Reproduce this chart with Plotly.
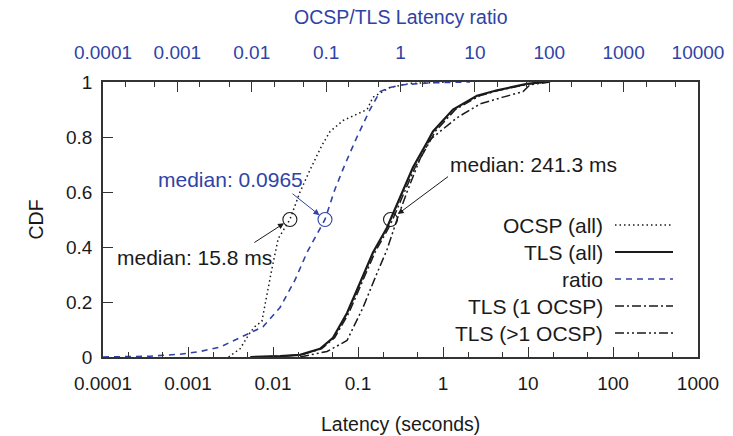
import math
import plotly.graph_objects as go

# ---------------- data ----------------
ocsp_x = [0.0030, 0.0041, 0.0054, 0.0061, 0.0074, 0.0087, 0.0097, 0.0115, 0.0158,
          0.0208, 0.0272, 0.0377, 0.0469, 0.0667, 0.128, 0.150, 0.238, 0.41, 1.2]
ocsp_y = [0.0, 0.03, 0.09, 0.11, 0.13, 0.25, 0.32, 0.43, 0.50,
          0.60, 0.68, 0.77, 0.82, 0.86, 0.90, 0.945, 0.98, 0.995, 1.0]

tls_x = [0.0054, 0.0121, 0.0208, 0.0357, 0.0508, 0.0743, 0.1057, 0.150, 0.219, 0.2413,
         0.312, 0.444, 0.648, 0.762, 1.31, 2.51, 4.32, 9.7, 15.8]
tls_y = [0.0, 0.003, 0.008, 0.03, 0.07, 0.16, 0.27, 0.38, 0.47, 0.50,
         0.58, 0.69, 0.78, 0.82, 0.90, 0.95, 0.97, 0.993, 1.0]

tls1_x = [0.0056, 0.0126, 0.0216, 0.0372, 0.0531, 0.0780, 0.111, 0.158, 0.230, 0.256,
          0.330, 0.470, 0.690, 0.810, 1.40, 2.70, 4.60, 10.2, 16.5]
tls1_y = [0.0, 0.003, 0.008, 0.03, 0.07, 0.16, 0.27, 0.38, 0.47, 0.50,
          0.58, 0.69, 0.78, 0.82, 0.90, 0.95, 0.97, 0.993, 1.0]

tlsm_x = [0.0208, 0.0432, 0.0743, 0.1146, 0.1675, 0.219, 0.2877, 0.377, 0.536,
          0.703, 1.46, 2.72, 5.08, 8.74, 10.6, 18.2]
tlsm_y = [0.0, 0.02, 0.06, 0.18, 0.305, 0.39, 0.50, 0.60, 0.72,
          0.79, 0.87, 0.92, 0.945, 0.965, 0.99, 1.0]

ratio_x = [0.0001, 0.00043, 0.00108, 0.00201, 0.00374, 0.00695, 0.01416, 0.0240, 0.0382,
           0.0553, 0.0828, 0.0965, 0.1315, 0.179, 0.260, 0.389, 0.530, 0.722, 1.08, 2.49, 8.6]
ratio_y = [0.0, 0.003, 0.01, 0.02, 0.036, 0.07, 0.11, 0.18, 0.28,
           0.38, 0.47, 0.50, 0.61, 0.70, 0.80, 0.90, 0.965, 0.98, 0.99, 0.997, 1.0]

median_ocsp = 0.0158
median_tls = 0.2413
median_ratio = 0.0965

bottom_ticks = [0.0001, 0.001, 0.01, 0.1, 1, 10, 100, 1000]
bottom_labels = ["0.0001", "0.001", "0.01", "0.1", "1", "10", "100", "1000"]
top_ticks = [0.0001, 0.001, 0.01, 0.1, 1, 10, 100, 1000, 10000]
top_labels = ["0.0001", "0.001", "0.01", "0.1", "1", "10", "100", "1000", "10000"]
y_ticks = [0, 0.2, 0.4, 0.6, 0.8, 1]
y_labels = ["0", "0.2", "0.4", "0.6", "0.8", "1"]

legend_names = ["OCSP (all)", "TLS (all)", "ratio", "TLS (1 OCSP)", "TLS (>1 OCSP)"]

# ---------------- style ----------------
FONT = "Liberation Sans, Arial, Helvetica, sans-serif"
FS_TICK = 19
FS_TXT = 21
FS_TITLE = 19.5
BLACK = "#1a1a1a"
AXC = "#333333"
BLUE = "#2f43a6"
styles = [
    dict(color=BLACK, width=1.5, dash="1.5px,3px"),
    dict(color=BLACK, width=2.2, dash="solid"),
    dict(color=BLUE, width=1.6, dash="6px,5px"),
    dict(color=BLACK, width=1.5, dash="9px,3px,2px,3px"),
    dict(color=BLACK, width=1.5, dash="9px,3px,2px,3px,2px,3px"),
]

L, R, T, B = 103, 35, 82, 79
W, H = 733, 436
PW, PH = W - L - R, H - T - B

fig = go.Figure()
fig.add_trace(go.Scatter(x=ocsp_x, y=ocsp_y, mode="lines", line=styles[0], showlegend=False))
fig.add_trace(go.Scatter(x=tls_x, y=tls_y, mode="lines", line=styles[1], showlegend=False))
fig.add_trace(go.Scatter(x=tls1_x, y=tls1_y, mode="lines", line=styles[3], showlegend=False))
fig.add_trace(go.Scatter(x=tlsm_x, y=tlsm_y, mode="lines", line=styles[4], showlegend=False))
fig.add_trace(go.Scatter(x=ratio_x, y=ratio_y, mode="lines", line=styles[2], xaxis="x2",
                         showlegend=False))

# median circles
fig.add_trace(go.Scatter(x=[median_ocsp, median_tls], y=[0.5, 0.5], mode="markers",
                         marker=dict(symbol="circle-open", size=14, color=BLACK,
                                     line=dict(width=1.1, color=BLACK)), showlegend=False))
fig.add_trace(go.Scatter(x=[median_ratio], y=[0.5], mode="markers", xaxis="x2",
                         marker=dict(symbol="circle-open", size=14, color=BLUE,
                                     line=dict(width=1.1, color=BLUE)), showlegend=False))

lo, lt, lr = math.log10(median_ocsp), math.log10(median_tls), math.log10(median_ratio)

ann = []
# arrows
ann.append(dict(x=lo, y=0.5, xref="x", yref="y", text="", showarrow=True,
                ax=-37, ay=24, arrowhead=2, arrowsize=1.2, arrowwidth=1, arrowcolor=BLACK,
                standoff=7))
ann.append(dict(x=lr, y=0.5, xref="x2", yref="y", text="", showarrow=True,
                ax=-34, ay=-27, arrowhead=2, arrowsize=1.2, arrowwidth=1, arrowcolor=BLUE,
                standoff=7))
ann.append(dict(x=lt, y=0.5, xref="x", yref="y", text="", showarrow=True,
                ax=59, ay=-44, arrowhead=2, arrowsize=1.2, arrowwidth=1, arrowcolor=BLACK,
                standoff=9))
# median texts
ann.append(dict(x=lo, y=0.5, xref="x", yref="y", text=f"median: {median_ocsp*1000:.1f} ms",
                showarrow=False, xanchor="right", yanchor="middle", xshift=-16, yshift=-38,
                font=dict(family=FONT, size=FS_TXT, color=BLACK)))
ann.append(dict(x=lr, y=0.5, xref="x2", yref="y", text=f"median: {median_ratio}",
                showarrow=False, xanchor="right", yanchor="middle", xshift=-20, yshift=40,
                font=dict(family=FONT, size=FS_TXT, color=BLUE)))
ann.append(dict(x=lt, y=0.5, xref="x", yref="y", text=f"median: {median_tls*1000:.1f} ms",
                showarrow=False, xanchor="left", yanchor="middle", xshift=57, yshift=55,
                font=dict(family=FONT, size=FS_TXT, color=BLACK)))

# custom gnuplot-like key (text right-aligned, sample on the right)
shapes = []
key_rows = [225, 252, 279, 306, 333]
for name, st, row in zip(legend_names, styles, key_rows):
    yp = (H - B - row) / PH
    ann.append(dict(x=(605 - L) / PW, y=yp, xref="paper", yref="paper", text=name,
                    showarrow=False, xanchor="right", yanchor="middle",
                    font=dict(family=FONT, size=FS_TXT, color=BLACK)))
    shapes.append(dict(type="line", xref="paper", yref="paper",
                       x0=(615 - L) / PW, x1=(673 - L) / PW, y0=yp, y1=yp,
                       line=dict(color=st["color"], width=st["width"], dash=st["dash"])))

# axis titles
ann.append(dict(x=0.5, y=(H - B - 17) / PH, xref="paper", yref="paper",
                text="OCSP/TLS Latency ratio", showarrow=False, yanchor="middle",
                font=dict(family=FONT, size=FS_TITLE, color=BLUE)))
ann.append(dict(x=0.5, y=(H - B - 424) / PH, xref="paper", yref="paper",
                text="Latency (seconds)", showarrow=False, yanchor="middle",
                font=dict(family=FONT, size=FS_TITLE, color=BLACK)))
ann.append(dict(x=(35 - L) / PW, y=0.5, xref="paper", yref="paper", textangle=-90,
                text="CDF", showarrow=False, xanchor="center", yanchor="middle",
                font=dict(family=FONT, size=FS_TITLE, color=BLACK)))

minor_vals = [m * 10 ** e for e in range(-4, 4) for m in (2, 5)]

fig.update_layout(
    width=W, height=H, margin=dict(l=L, r=R, t=T, b=B, autoexpand=False),
    paper_bgcolor="white", plot_bgcolor="white",
    font=dict(family=FONT, size=FS_TICK, color=BLACK),
    annotations=ann, shapes=shapes,
    xaxis=dict(type="log", range=[-4, 3], tickmode="array", tickvals=bottom_ticks,
               ticktext=bottom_labels, ticks="inside", ticklen=10, tickwidth=1.3,
               tickcolor=AXC, showline=True, linecolor=AXC, linewidth=1.8, mirror=True,
               showgrid=False, zeroline=False, automargin=False, ticklabelstandoff=8,
               minor=dict(tickmode="array", tickvals=minor_vals, ticks="inside", ticklen=5,
                          tickwidth=1.2, tickcolor=AXC, showgrid=False),
               tickfont=dict(family=FONT, size=FS_TICK, color=BLACK)),
    xaxis2=dict(type="log", range=[-4, 4], overlaying="x", side="top", anchor="y",
                tickmode="array", tickvals=top_ticks, ticktext=top_labels,
                ticks="inside", ticklen=10, tickwidth=1.3, tickcolor=AXC,
                showline=True, linecolor=AXC, linewidth=1.8, showgrid=False, zeroline=False,
                automargin=False, ticklabelstandoff=14,
                minor=dict(tickmode="array", tickvals=minor_vals, ticks="inside", ticklen=5,
                           tickwidth=1.2, tickcolor=AXC, showgrid=False),
                tickfont=dict(family=FONT, size=FS_TICK, color=BLUE)),
    yaxis=dict(range=[0, 1], tickmode="array", tickvals=y_ticks, ticktext=y_labels,
               ticks="inside", ticklen=10, tickwidth=1.3, tickcolor=AXC,
               showline=True, linecolor=AXC, linewidth=1.8, mirror=True,
               showgrid=False, zeroline=False, automargin=False, ticklabelstandoff=5,
               tickfont=dict(family=FONT, size=FS_TICK, color=BLACK)),
)

fig.write_html("out.html")
